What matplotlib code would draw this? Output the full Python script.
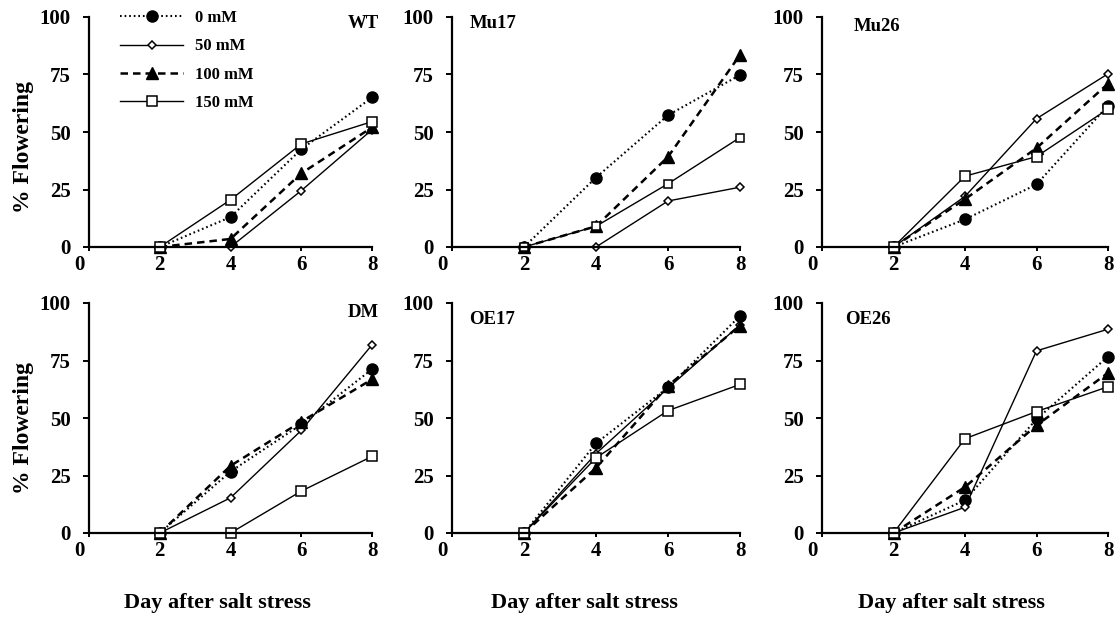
import matplotlib
matplotlib.use('Agg')
import matplotlib.pyplot as plt
import matplotlib.transforms as mtransforms

plt.rcParams['font.family'] = ['Liberation Serif', 'DejaVu Serif']
plt.rcParams['font.weight'] = 'bold'

# data
days = [2, 4, 6, 8]
lines = ['WT', 'Mu17', 'Mu26', 'DM', 'OE17', 'OE26']
conc_labels = ['0 mM', '50 mM', '100 mM', '150 mM']

wt_0 = [0, 13, 42.5, 65]
wt_50 = [0, 0, 24.5, 51]
wt_100 = [0, 3.5, 32, 52]
wt_150 = [0, 20.5, 44.8, 54.5]

mu17_0 = [0, 30.2, 57.3, 74.8]
mu17_50 = [0, 0, 20, 26]
mu17_100 = [0, 9, 39.2, 83.5]
mu17_150 = [0, 9, 27.5, 47.6]

mu26_0 = [0, 12, 27.2, 61.5]
mu26_50 = [0, 22, 55.8, 75.3]
mu26_100 = [0, 20.8, 43, 71]
mu26_150 = [0, 30.8, 39.3, 60]

dm_0 = [0, 26.7, 47.2, 71.2]
dm_50 = [0, 15.3, 44.6, 81.8]
dm_100 = [0, 29.2, 48.4, 66.8]
dm_150 = [0, 0, 18.2, 33.3]

oe17_0 = [0, 39, 63.3, 94.4]
oe17_50 = [0, 34.5, 63, 90.5]
oe17_100 = [0, 28.3, 64, 90.2]
oe17_150 = [0, 32.7, 53.2, 64.6]

oe26_0 = [0, 14.3, 49.5, 76.7]
oe26_50 = [0, 11.2, 79.2, 88.6]
oe26_100 = [0, 20, 46.8, 69.6]
oe26_150 = [0, 41, 52.8, 63.6]

panel_data = [
    [wt_0, wt_50, wt_100, wt_150],
    [mu17_0, mu17_50, mu17_100, mu17_150],
    [mu26_0, mu26_50, mu26_100, mu26_150],
    [dm_0, dm_50, dm_100, dm_150],
    [oe17_0, oe17_50, oe17_100, oe17_150],
    [oe26_0, oe26_50, oe26_100, oe26_150],
]
square_size = [7, 5.2, 7, 7, 7, 7]

W, H = 1115, 617
fig = plt.figure(figsize=(W / 100, H / 100), dpi=100)

col_left = [89, 452, 822]
col_right = [372, 740, 1108]
row_top = [17, 303]
row_bottom = [247, 533]

label_pos = [(1.025, 0.97, 'right'), (0.06, 0.97, 'left'), (0.11, 0.96, 'left'),
             (1.025, 0.96, 'right'), (0.06, 0.93, 'left'), (0.08, 0.93, 'left')]

axes = []
for i, name in enumerate(lines):
    r, c = divmod(i, 3)
    l, rt = col_left[c], col_right[c]
    t, b = row_top[r], row_bottom[r]
    ax = fig.add_axes([l / W, 1 - b / H, (rt - l) / W, (b - t) / H])
    axes.append(ax)
    d0, d50, d100, d150 = panel_data[i]
    h0, = ax.plot(days, d0, ls=(0, (0.8, 1.4)), lw=1.5, color='black',
                  marker='o', ms=8, mfc='black', mec='black', clip_on=False)
    h50, = ax.plot(days, d50, ls='-', lw=1.0, color='black',
                   marker='D', ms=4.3, mfc='white', mec='black', mew=1.1, clip_on=False)
    h100, = ax.plot(days, d100, ls=(0, (3.0, 2.0)), lw=1.8, color='black',
                    marker='^', ms=8.5, mfc='black', mec='black', clip_on=False)
    h150, = ax.plot(days, d150, ls='-', lw=1.0, color='black',
                    marker='s', ms=square_size[i], mfc='white', mec='black', mew=1.1,
                    clip_on=False)

    ax.set_xlim(0, 8)
    ax.set_ylim(0, 100)
    ax.set_xticks([0, 2, 4, 6, 8])
    ax.set_yticks([0, 25, 50, 75, 100])
    for s in ['top', 'right']:
        ax.spines[s].set_visible(False)
    for s in ['left', 'bottom']:
        ax.spines[s].set_linewidth(1.6)
    ax.tick_params(axis='y', direction='out', length=4, width=1.4, pad=9, labelsize=15)
    ax.tick_params(axis='x', direction='out', length=3, width=1.4, pad=3, labelsize=15)
    for lab in ax.get_xticklabels() + ax.get_yticklabels():
        lab.set_fontweight('bold')
    # the "0" label on the x axis sits a little left of the axis in the original
    off = mtransforms.ScaledTranslation(-10 / 100, 0, fig.dpi_scale_trans)
    ax.get_xticklabels()[0].set_transform(ax.get_xticklabels()[0].get_transform() + off)

    lx, ly, ha = label_pos[i]
    ax.text(lx, ly, name, transform=ax.transAxes, ha=ha, va='center',
            fontsize=13.5, fontweight='bold')

    if i == 0:
        handles = [h0, h50, h100, h150]

fig.legend(handles, conc_labels, loc='upper left', bbox_to_anchor=(120 / W, 1 - 10 / H),
           frameon=False, handlelength=3.8, handletextpad=0.7, labelspacing=0.74,
           borderpad=0, borderaxespad=0, prop={'size': 12, 'weight': 'bold'})

for r, yc in enumerate([147, 428]):
    fig.text(24 / W, 1 - yc / H, '% Flowering', rotation=90, ha='center', va='center',
             fontsize=17, fontweight='bold')

for xc in [217, 584, 951]:
    fig.text(xc / W, 1 - 603 / H, 'Day after salt stress', ha='center', va='center',
             fontsize=16, fontweight='bold')

fig.savefig('out.png', dpi=100)
